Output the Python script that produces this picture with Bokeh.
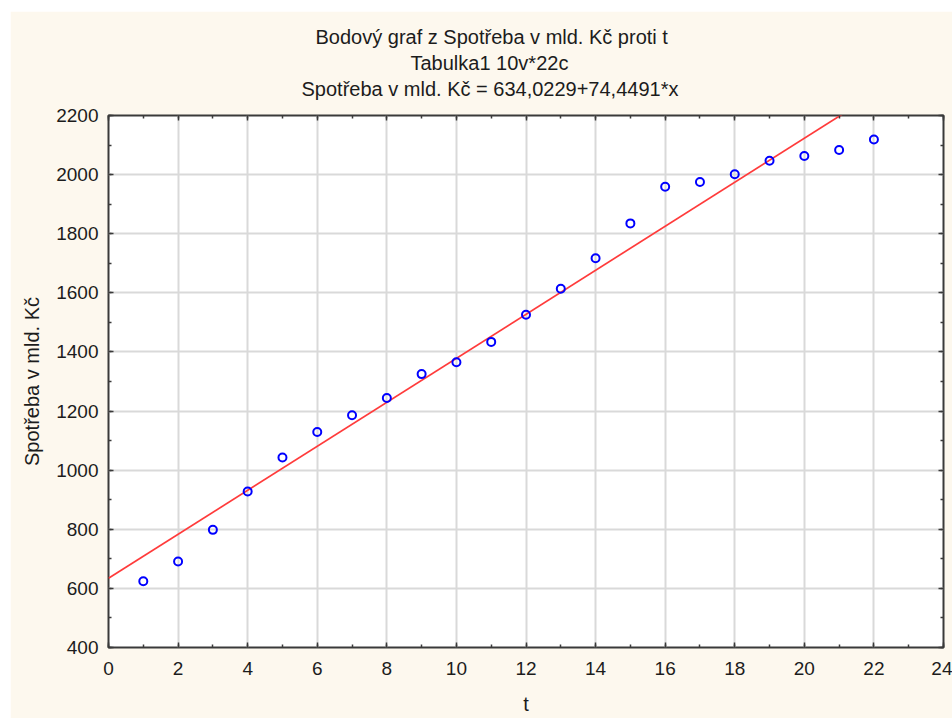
from bokeh.plotting import figure
from bokeh.models import (Range1d, LinearAxis, SingleIntervalTicker, Title, Grid, ColumnDataSource)
from bokeh.embed import file_html
from bokeh.resources import INLINE

# ---- data ----
t_values = [1, 2, 3, 4, 5, 6, 7, 8, 9, 10, 11, 12, 13, 14, 15, 16, 17, 18, 19, 20, 21, 22]
spotreba = [624, 691, 798, 928, 1043, 1129, 1186, 1244, 1325, 1365, 1434, 1526,
            1614, 1717, 1835, 1959, 1975, 2001, 2047, 2063, 2083, 2119]
intercept = 634.0229
slope = 74.4491
title_lines = ["Bodový graf z Spotřeba v mld. Kč proti t",
               "Tabulka1 10v*22c",
               "Spotřeba v mld. Kč = 634,0229+74,4491*x"]
x_label = "t"
y_label = "Spotřeba v mld. Kč"

FONT = "Liberation Sans"
CREAM = "#FDF8EE"
TXT = "#1c1c1c"

p = figure(width=942, height=707, output_backend="svg", toolbar_location=None,
           x_range=Range1d(0, 24), y_range=Range1d(400, 2200),
           min_border_left=98, min_border_top=104, min_border_right=9, min_border_bottom=71,
           x_axis_type=None, y_axis_type=None)
p.styles = {"margin-left": "10px", "margin-top": "11px"}
p.border_fill_color = CREAM
p.background_fill_color = "white"
p.outline_line_color = "#3a3a3a"
p.outline_line_width = 2

xt = SingleIntervalTicker(interval=2, num_minor_ticks=2)
yt = SingleIntervalTicker(interval=200, num_minor_ticks=2)

def style_axis(ax, show_labels):
    ax.axis_line_color = None
    ax.major_tick_line_color = "#3a3a3a"
    ax.minor_tick_line_color = "#3a3a3a"
    ax.major_tick_line_width = 1.5
    ax.minor_tick_line_width = 1.5
    ax.major_tick_in = 5
    ax.major_tick_out = 0
    ax.minor_tick_in = 3
    ax.minor_tick_out = 0
    ax.major_label_text_font = FONT
    ax.major_label_text_color = TXT
    ax.axis_label_text_font = FONT
    ax.axis_label_text_font_style = "normal"
    ax.axis_label_text_color = TXT
    ax.axis_label_text_font_size = "20px"
    if show_labels:
        ax.major_label_text_font_size = "19px"
    else:
        ax.major_label_text_font_size = "0px"
        ax.major_label_text_color = None
        ax.major_label_standoff = 0

xb = LinearAxis(ticker=xt, axis_label=x_label)
style_axis(xb, True)
xb.major_label_standoff = 14
xb.axis_label_standoff = 15
p.add_layout(xb, "below")

yl = LinearAxis(ticker=yt, axis_label=y_label)
style_axis(yl, True)
yl.major_label_standoff = 10
yl.axis_label_standoff = 10
p.add_layout(yl, "left")

xa = LinearAxis(ticker=xt)
style_axis(xa, False)
p.add_layout(xa, "above")

# invisible spacer between the frame and the title lines
spacer = LinearAxis(ticker=xt)
style_axis(spacer, False)
spacer.major_tick_in = 0
spacer.minor_tick_in = 0
spacer.major_tick_out = 15
spacer.major_tick_line_color = None
spacer.minor_tick_line_color = None
p.add_layout(spacer, "above")

yr = LinearAxis(ticker=yt)
style_axis(yr, False)
p.add_layout(yr, "right")

p.add_layout(Grid(dimension=0, ticker=xt, grid_line_color="#d9d9d9", grid_line_width=2))
p.add_layout(Grid(dimension=1, ticker=yt, grid_line_color="#d9d9d9", grid_line_width=2))

# regression line
x_line = [0, 24]
y_line = [intercept + slope * x for x in x_line]
p.line(x_line, y_line, line_color="#ff3b3b", line_width=1.7)

src = ColumnDataSource(data=dict(t=t_values, y=spotreba))
p.scatter("t", "y", source=src, size=8, marker="circle", fill_color=None,
          line_color="#0000ff", line_width=2)

# title lines (last added is on top); left offsets centre each line near x=490
title_offsets = [207, 302, 193]
for line, off in reversed(list(zip(title_lines, title_offsets))):
    p.add_layout(Title(text=line, text_font=FONT, text_font_size="20px",
                       text_font_style="normal", text_color=TXT, align="left",
                       offset=off, standoff=2), "above")

open("out.html", "w").write(file_html(p, INLINE))
